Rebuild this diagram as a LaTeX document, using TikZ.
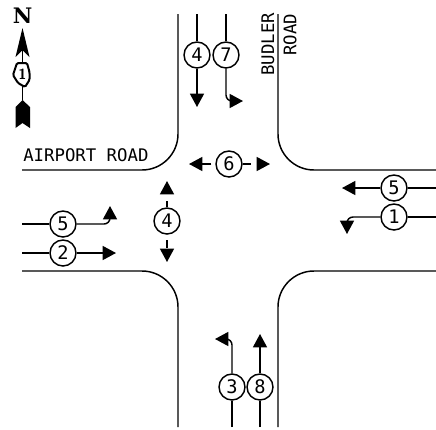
\documentclass[tikz,border=0pt]{standalone}
\usepackage{fontspec}
\setmonofont{DejaVu Sans Mono}
\newfontfamily\northfont{DejaVu Serif}
\usepackage{tikz}
\usetikzlibrary{arrows.meta}
\tikzset{
  roadedge/.style={line width=1.1pt, rounded corners=27pt},
  lane/.style={line width=1.1pt},
  lanearr/.style={-{Triangle[length=10pt, width=10.5pt]}, line width=1.1pt},
  turnarr/.style={lanearr, rounded corners=4.5pt},
  phase/.style={circle, draw, line width=1.1pt, fill=white, minimum size=19.5pt,
                inner sep=0pt, font=\ttfamily\fontsize{14}{14}\selectfont},
  roadname/.style={inner sep=0pt, font=\ttfamily\fontsize{13}{13}\selectfont},
  vroadname/.style={roadname, rotate=90, anchor=west}}

\begin{document}
\begin{tikzpicture}[x=0.75pt, y=-0.75pt]
  \useasboundingbox (0,0) rectangle (436,429);

  % road edges
  \draw[roadedge] (22,170) -| (178,14);
  \draw[roadedge] (278,14) |- (436,170);
  \draw[roadedge] (22,271) -| (178,427);
  \draw[roadedge] (278,427) |- (436,271);

  \node[roadname, anchor=west] (airport) at (23,155) {AIRPORT ROAD};
  \node[vroadname] (budler) at (268,76) {BUDLER};
  \node[vroadname] (budroad) at (290,56) {ROAD};

  % north arrow
  \node[inner sep=0pt, font=\northfont\bfseries\fontsize{16}{16}\selectfont] (north) at (22.5,16) {N};
  \draw[lane] (22.5,50) -- (22.5,100);
  \fill (22.5,28) -- (29.5,57) -- (22.5,50) -- (15.5,57) -- cycle;
  \draw[line width=1.5pt, fill=white, rounded corners=1pt] (17,63) -- (27,63) -- (29.5,72) -- (29.5,80)
    -- (25,87) -- (18,83) -- (13,75) -- cycle;
  \node[inner sep=0pt, font=\sffamily\bfseries\fontsize{11}{11}\selectfont] (shield) at (22.5,74) {1};
  \fill (22.5,100) -- (30,107) -- (30,128) -- (22.5,123) -- (15.5,128) -- (15.5,107) -- cycle;

  % south approach of Budler Road
  \node[phase] (p4s) at (197,55) {4};
  \node[phase] (p7) at (226,55) {7};
  \coordinate (p4sin) at (197,14);
  \coordinate (p4send) at (197,107);
  \coordinate (p7in) at (226,14);
  \coordinate (p7end) at (243,101);
  \draw[lane] (p4sin) -- (p4s);
  \draw[lanearr] (p4s) -- (p4send);
  \draw[lane] (p7in) -- (p7);
  \draw[turnarr] (p7) |- (p7end);

  % pedestrian crossings
  \node[phase] (p6) at (229,164) {6};
  \coordinate (p6w) at (189,164);
  \coordinate (p6e) at (270,164);
  \draw[lanearr, dash pattern=on 0pt off 3pt on 7pt off 30pt] (p6) -- (p6w);
  \draw[lanearr, dash pattern=on 6pt off 5pt on 5pt off 30pt] (p6) -- (p6e);
  \node[phase] (p4x) at (167,221) {4};
  \coordinate (p4xn) at (167,181);
  \coordinate (p4xs) at (167,262);
  \draw[lanearr, dash pattern=on 5pt off 30pt] (p4x) -- (p4xn);
  \draw[lanearr, dash pattern=on 0pt off 4pt on 6pt off 30pt] (p4x) -- (p4xs);

  % Airport Road, from the west
  \node[phase] (p5w) at (63,224) {5};
  \node[phase] (p2) at (63,253) {2};
  \coordinate (p5win) at (22,224);
  \coordinate (p5wend) at (110,206);
  \coordinate (p2in) at (22,253);
  \coordinate (p2end) at (116,253);
  \draw[lane] (p5win) -- (p5w);
  \draw[turnarr] (p5w) -| (p5wend);
  \draw[lane] (p2in) -- (p2);
  \draw[lanearr] (p2) -- (p2end);

  % Airport Road, from the east
  \node[phase] (p5e) at (394,188) {5};
  \node[phase] (p1) at (394,217) {1};
  \coordinate (p5ein) at (436,188);
  \coordinate (p5eend) at (342,188);
  \coordinate (p1in) at (436,217);
  \coordinate (p1end) at (347,234);
  \draw[lane] (p5ein) -- (p5e);
  \draw[lanearr] (p5e) -- (p5eend);
  \draw[lane] (p1in) -- (p1);
  \draw[turnarr] (p1) -| (p1end);

  % north approach of Budler Road
  \node[phase] (p3) at (232,387) {3};
  \node[phase] (p8) at (260,387) {8};
  \coordinate (p3in) at (232,427);
  \coordinate (p3end) at (215,339);
  \coordinate (p8in) at (260,427);
  \coordinate (p8end) at (260,334);
  \draw[lane] (p3in) -- (p3);
  \draw[turnarr] (p3) |- (p3end);
  \draw[lane] (p8in) -- (p8);
  \draw[lanearr] (p8) -- (p8end);
\end{tikzpicture}
\end{document}
